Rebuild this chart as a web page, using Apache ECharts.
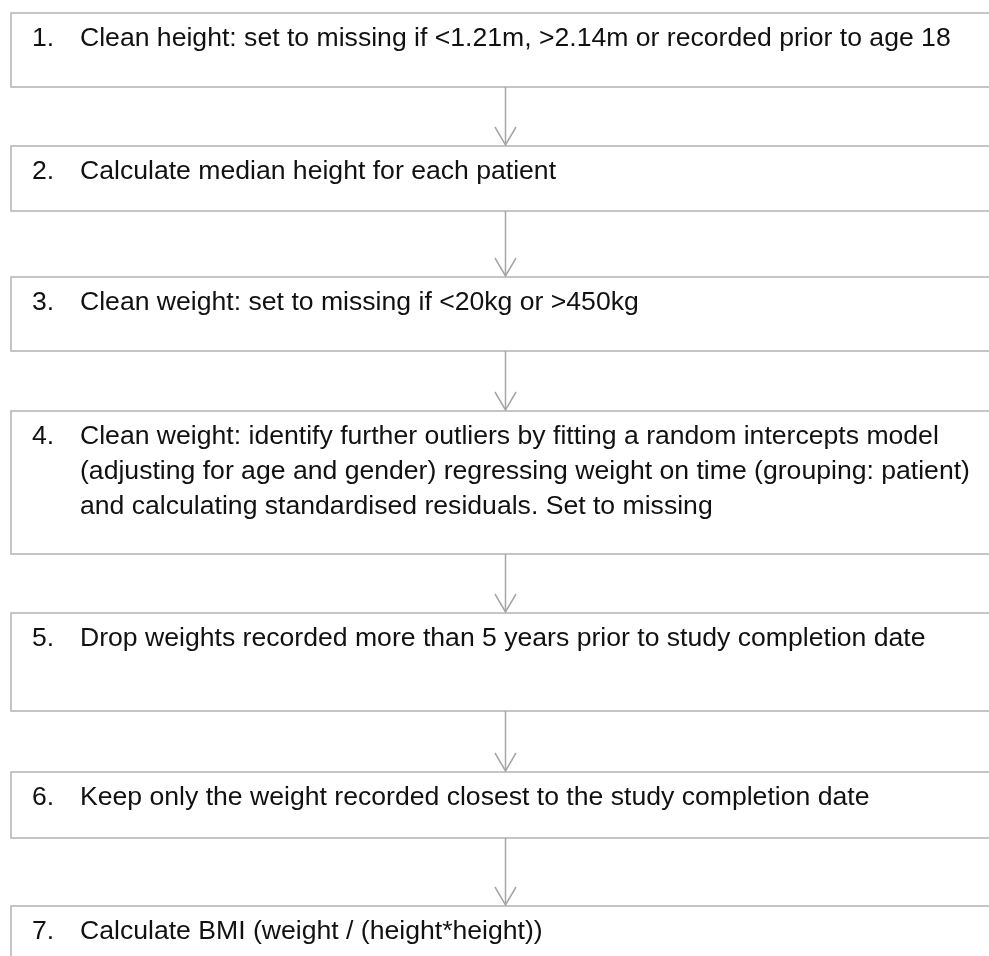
<!DOCTYPE html>
<html>
<head>
<meta charset="utf-8">
<script src="https://cdn.jsdelivr.net/npm/echarts@6/dist/echarts.min.js"></script>
<style>
  html, body { margin: 0; padding: 0; background: #fff; }
  #main { width: 989px; height: 956px; }
</style>
</head>
<body>
<div id="main"></div>
<script>
// step labels and texts (one inner array per box, one string per line)
var stepNumbers = ['1.', '2.', '3.', '4.', '5.', '6.', '7.']
var stepLines = [
  ['Clean height: set to missing if <1.21m, >2.14m or recorded prior to age 18'],
  ['Calculate median height for each patient'],
  ['Clean weight: set to missing if <20kg or >450kg'],
  ['Clean weight: identify further outliers by fitting a random intercepts model',
   '(adjusting for age and gender) regressing weight on time (grouping: patient)',
   'and calculating standardised residuals. Set to missing'],
  ['Drop weights recorded more than 5 years prior to study completion date'],
  ['Keep only the weight recorded closest to the study completion date'],
  ['Calculate BMI (weight / (height*height))']
]
// box extents on the page axis (top / bottom)
var boxTop = [13, 146, 277, 411, 613, 772, 906]
var boxBottom = [87, 211, 351, 554, 711, 838, 990]

var borderColor = '#b3b3b3'
var arrowColor = '#a6a6a6'
var textStyle = { fontFamily: 'Liberation Sans', fontSize: 26.6, fill: '#111', verticalAlign: 'middle' }

var chart = echarts.init(document.getElementById('main'))

function label (text, x, y) {
  return { type: 'text', style: echarts.util.extend({ text: text, x: x, y: y }, textStyle) }
}

function renderStep (params, api) {
  var i = api.value(0)
  var tl = api.coord([11, api.value(1)])
  var br = api.coord([1100, api.value(2)])
  var children = [{
    type: 'rect',
    shape: { x: tl[0], y: tl[1], width: br[0] - tl[0], height: br[1] - tl[1] },
    style: { fill: 'none', stroke: borderColor, lineWidth: 1.5 }
  }, label(stepNumbers[i], api.coord([32, 0])[0], tl[1] + 26)]
  stepLines[i].forEach(function (line, k) {
    children.push(label(line, api.coord([80, 0])[0], tl[1] + 26 + k * 35))
  })
  if (i > 0) {
    var from = api.coord([505.5, boxBottom[i - 1]])
    var to = api.coord([505.5, api.value(1)])
    children.push({
      type: 'line',
      shape: { x1: from[0], y1: from[1], x2: to[0], y2: to[1] - 1 },
      style: { stroke: arrowColor, lineWidth: 1.5 }
    }, {
      type: 'polyline',
      shape: { points: [[to[0] - 10.5, to[1] - 19], [to[0], to[1] - 1], [to[0] + 10.5, to[1] - 19]] },
      style: { fill: 'none', stroke: arrowColor, lineWidth: 1.5 }
    })
  }
  return { type: 'group', children: children }
}

var option = {
  animation: false,
  grid: { left: 0, right: 0, top: 0, bottom: 0 },
  xAxis: { type: 'value', min: 0, max: 989, show: false },
  yAxis: { type: 'value', min: 0, max: 956, inverse: true, show: false },
  series: [{
    type: 'custom',
    clip: false,
    renderItem: renderStep,
    data: stepNumbers.map(function (n, i) { return [i, boxTop[i], boxBottom[i]] })
  }]
}
chart.setOption(option)
</script>
</body>
</html>
